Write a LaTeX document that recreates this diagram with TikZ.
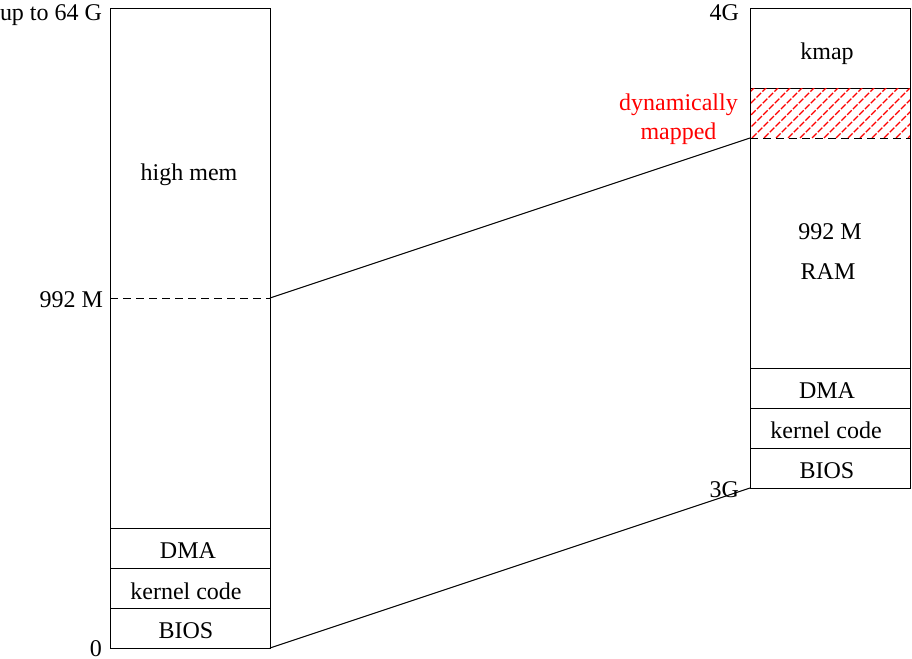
\documentclass[tikz,border=0pt]{standalone}
\usepackage{fontspec}
\setmainfont{Liberation Serif}
\begin{document}
\begin{tikzpicture}[x=0.5pt,y=-0.5pt, font=\fontsize{12}{14}\selectfont, line width=0.5pt,
  seg/.style={draw, minimum width=80pt, inner sep=0pt, outer sep=0pt},
  area/.style={minimum width=80pt, inner sep=0pt, outer sep=0pt},
  lbl/.style={inner sep=0pt, outer sep=0pt},
  txt/.style={inner sep=0pt, outer sep=0pt, anchor=base},
  hatchline/.style={red, line width=0.7pt, dash pattern=on 3.2pt off 0.9pt},
  dsh/.style={dash pattern=on 4pt off 2.5pt}]
\useasboundingbox (0,0) rectangle (912,659);

% left column
\node[seg, minimum height=260pt] (hm) at (190,268) {};
\node[seg, minimum height=20pt] (ldma) at (190,548) {};
\node[seg, minimum height=20pt] (lkc) at (190,588) {};
\node[seg, minimum height=20pt] (lbios) at (190,628) {};
\node[txt] (hmt) at (189,180) {high mem};
\node[txt] (ldmat) at (188,558) {DMA};
\node[txt] (lkct) at (186,599) {kernel code};
\node[txt] (lbiost) at (186,638.5) {BIOS};
\coordinate (l992) at (270,298);
\draw[dsh] (hm.west |- l992) -- (l992);

% right column
\node[seg, minimum height=40pt] (kmap) at (830,48) {};
\node[area, minimum height=25pt] (dyn) at (830,113) {};
\node[area, minimum height=115pt] (ram) at (830,253) {};
\node[seg, minimum height=20pt] (rdma) at (830,388) {};
\node[seg, minimum height=20pt] (rkc) at (830,428) {};
\node[seg, minimum height=20pt] (rbios) at (830,468) {};
\node[txt] (kmapt) at (827,59) {kmap};
\node[txt] (rdmat) at (827,398.5) {DMA};
\node[txt] (rkct) at (826,438.5) {kernel code};
\node[txt] (rbiost) at (827,478.5) {BIOS};

\begin{scope}
  \clip (dyn.south west) rectangle (dyn.north east);
  \foreach \i in {-5,...,14} {
    \draw[hatchline] (752+\i*12,138) -- ++(52,-52);
  }
\end{scope}
\draw (dyn.north west) -- (ram.south west);
\draw (dyn.north east) -- (ram.south east);
\draw[dsh] (dyn.south west) -- (dyn.south east);

\node[txt] (r992) at (830,239) {992 M};
\node[txt] (rram) at (828,279) {RAM};

% connectors
\draw (l992) -- (dyn.south west);
\draw (lbios.south east) -- (rbios.south west);

% labels
\node[lbl, anchor=base east] (lup) at (102,20) {up to 64 G};
\node[lbl, anchor=base east] (lm) at (103,307) {992 M};
\node[lbl, anchor=base] (lzero) at (96,656) {0};
\node[lbl, anchor=base east] (r4g) at (739,20) {4G};
\node[lbl, anchor=base east] (r3g) at (739,497) {3G};
\node[lbl, anchor=base, red] (dyn1) at (678.5,110.5) {dynamically};
\node[lbl, anchor=base, red] (dyn2) at (678.5,139) {mapped};
\end{tikzpicture}
\end{document}
